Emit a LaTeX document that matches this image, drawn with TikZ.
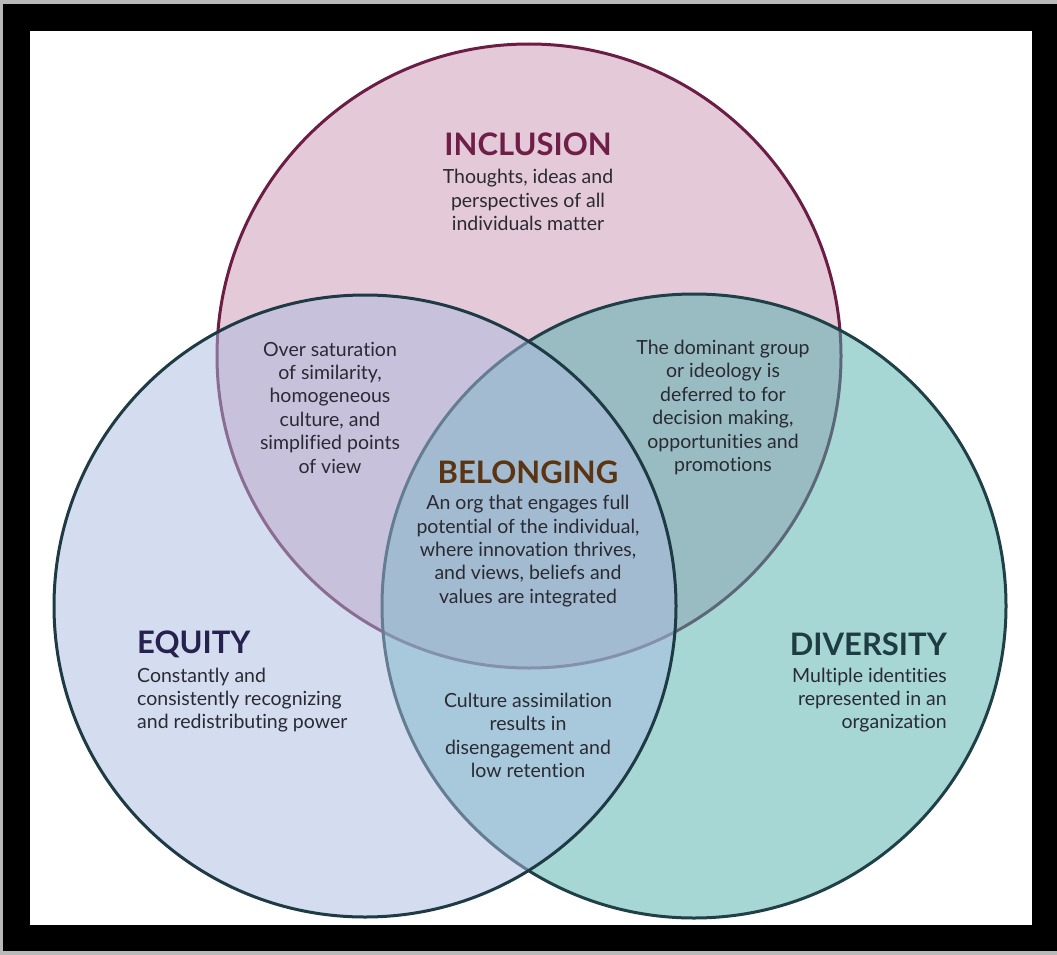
\documentclass[tikz,border=0pt]{standalone}
\usepackage{fontspec}
\setmainfont{Lato}[Ligatures=NoCommon]
\usepackage{tikz}
\usetikzlibrary{positioning}
\definecolor{IncFill}{HTML}{E4C9D8}
\definecolor{IncLine}{HTML}{6B1D45}
\definecolor{DivFill}{HTML}{4FB1AD}
\definecolor{DivLine}{HTML}{1F4046}
\definecolor{EquFill}{HTML}{ABBBE1}
\definecolor{EquLine}{HTML}{1E3A44}
\definecolor{IncHead}{HTML}{6E1E47}
\definecolor{BelHead}{HTML}{5B3512}
\definecolor{EquHead}{HTML}{26214F}
\definecolor{DivHead}{HTML}{1E3C41}
\definecolor{BodyText}{HTML}{2A2A33}
\tikzset{
  head/.style={font=\fontsize{31}{33}\selectfont\bfseries,inner sep=0pt},
  body/.style={font=\fontsize{19.5}{23.4}\selectfont,text=BodyText,inner sep=0pt}
}
\begin{document}
\begin{tikzpicture}[line cap=round,line join=round,x=1pt,y=-1pt]
\useasboundingbox (0,0) rectangle (1057,955);
\fill[gray!55] (0,0) rectangle (1057,955);
\fill[black] (3,4) rectangle (1057,951);
\fill[white] (30,31) rectangle (1032,925);
% circles: top, right, left
\draw[line width=3pt,color=IncLine,fill=IncFill] (529,356) circle (312);
\draw[line width=3pt,color=DivLine,fill=DivFill,fill opacity=.5] (694,606) circle (312);
\draw[line width=3pt,color=EquLine,fill=EquFill,fill opacity=.5] (365,606) circle (311);
% headings
\node[head,text=IncHead] (inc) at (528,144) {INCLUSION};
\node[head,text=BelHead] (bel) at (528,472) {BELONGING};
\node[head,text=EquHead,anchor=west] (equ) at (137,644) {EQUITY};
\node[head,text=DivHead,anchor=east] (div) at (947,644) {DIVERSITY};
% texts
\node[body,align=center] (inctext) at (528,200) {Thoughts, ideas and\\perspectives of all\\individuals matter};
\node[body,align=center] (ietext) at (330,407.5) {Over saturation\\of similarity,\\homogeneous\\culture, and\\simplified points\\of view};
\node[body,align=center] (idtext) at (723,407.5) {The dominant group\\or ideology is\\deferred to for\\decision making,\\opportunities and\\promotions};
\node[body,align=center] (beltext) at (528,551) {An org that engages full\\potential of the individual,\\where innovation thrives,\\and views, beliefs and\\values are integrated};
\node[body,align=left,anchor=west] (equtext) at (137,700) {Constantly and\\consistently recognizing\\and redistributing power};
\node[body,align=right,anchor=east] (divtext) at (947,700) {Multiple identities\\represented in an\\organization};
\node[body,align=center] (edtext) at (528,735.5) {Culture assimilation\\results in\\disengagement and\\low retention};
\end{tikzpicture}
\end{document}
